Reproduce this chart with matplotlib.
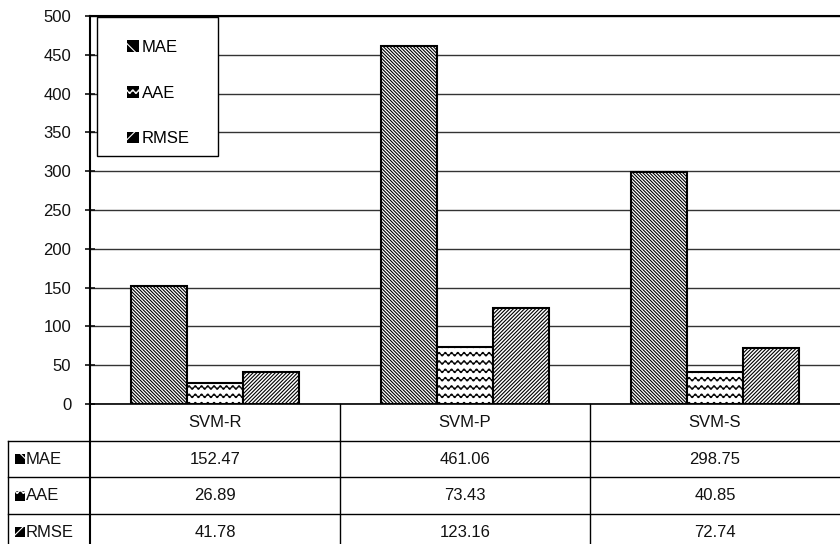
#!/usr/bin/env python3

import warnings

import numpy as np
import matplotlib
matplotlib.use("Agg")
import matplotlib.pyplot as plt
import matplotlib.transforms as mtransforms
from matplotlib import hatch as mhatch
from matplotlib.patches import Patch, Rectangle
from matplotlib.path import Path

warnings.filterwarnings("ignore")

models = ["SVM-R", "SVM-P", "SVM-S"]
metrics = ["MAE", "AAE", "RMSE"]
mae = [152.47, 461.06, 298.75]
aae = [26.89, 73.43, 40.85]
rmse = [41.78, 123.16, 72.74]
yticks = [0, 50, 100, 150, 200, 250, 300, 350, 400, 450, 500]


class WavyHatch(mhatch.HatchPatternBase):
    """Rows of small sine waves, selected with '~' in a hatch string."""

    n_pts = 161

    def __init__(self, hatch, density):
        self.num_rows = int(hatch.count("~") * density)
        self.num_vertices = self.num_rows * self.n_pts

    def set_vertices_and_codes(self, vertices, codes):
        xs = np.linspace(0.0, 1.0, self.n_pts)
        wave = 0.018 * np.sin(2 * np.pi * 16 * xs)
        for i in range(self.num_rows):
            y = (i + 0.5) / self.num_rows
            sl = slice(i * self.n_pts, (i + 1) * self.n_pts)
            vertices[sl, 0] = xs
            vertices[sl, 1] = y + wave
            codes[sl] = Path.LINETO
            codes[i * self.n_pts] = Path.MOVETO


mhatch._hatch_types.append(WavyHatch)

plt.rcParams["font.family"] = ["Liberation Sans", "DejaVu Sans"]
plt.rcParams["font.size"] = 12
plt.rcParams["hatch.linewidth"] = 0.8

bar_hatch = ["\\" * 10, "~~", "/" * 9]
icon_hatch = ["\\\\", "~", "//"]
series = [mae, aae, rmse]

W, H = 840, 544
fig = plt.figure(figsize=(W / 100, H / 100), dpi=100)
ax = fig.add_axes([90 / W, 140 / H, 750 / W, 388 / H])

x = np.arange(len(models))
width = 0.224
for i, (vals, h) in enumerate(zip(series, bar_hatch)):
    ax.bar(x + (i - 1) * width, vals, width, facecolor="white",
           edgecolor="black", hatch=h, linewidth=1.5, zorder=3)

ax.set_xlim(-0.5, 2.5)
ax.set_ylim(0, 500)
ax.set_yticks(yticks)
ax.set_xticks([])
ax.yaxis.grid(True, color="#333333", linewidth=1.0, zorder=0)
ax.set_axisbelow(True)
ax.tick_params(axis="y", direction="inout", length=7, width=1.2, pad=10,
               colors="#111111")
ax.spines["right"].set_visible(False)
ax.spines["left"].set_linewidth(1.5)
ax.spines["top"].set_linewidth(1.5)
ax.spines["bottom"].set_linewidth(1.2)

# legend box in the upper left corner
ax.add_patch(Rectangle((7 / 750, 1 - 140 / 388), 121 / 750, 139 / 388,
                       transform=ax.transAxes, facecolor="white",
                       edgecolor="black", linewidth=1.0, zorder=5))
handles = [Patch(facecolor="black", edgecolor="white", linewidth=0, hatch=h)
           for h in icon_hatch]
ax.legend(handles, metrics, loc="upper left", frameon=False,
          bbox_to_anchor=(37 / 750, 1 - 24 / 388), handlelength=0.72,
          handleheight=0.72, handletextpad=0.15, labelspacing=1.84,
          borderaxespad=0, borderpad=0).set_zorder(6)

# data table under the plot
col_tr = mtransforms.blended_transform_factory(ax.transData, fig.transFigure)
top = 140 / H
rh = 36.7 / H
line_kw = dict(color="black", linewidth=1.0, clip_on=False)

for k in range(1, 4):
    y = top - k * rh
    fig.add_artist(plt.Line2D([8 / W, 1], [y, y], transform=fig.transFigure,
                              **line_kw))
for b in [-0.5, 0.5, 1.5]:
    lw = 1.5 if b == -0.5 else 1.0
    fig.add_artist(plt.Line2D([b, b], [top, 0], transform=col_tr,
                              color="black", linewidth=lw))
fig.add_artist(plt.Line2D([8 / W, 8 / W], [top - rh, 0],
                          transform=fig.transFigure, **line_kw))

for j, name in enumerate(models):
    fig.text(j, top - 0.5 * rh, name, transform=col_tr, ha="center",
             va="center", color="#111111")
for r, (vals, name, h) in enumerate(zip(series, metrics, icon_hatch)):
    yc = top - (r + 1.5) * rh
    fig.add_artist(Rectangle((15 / W, yc - 5 / H), 10 / W, 10 / H,
                             transform=fig.transFigure, facecolor="black",
                             edgecolor="white", linewidth=0, hatch=h))
    fig.text(26 / W, yc, name, ha="left", va="center", color="#111111")
    for j, v in enumerate(vals):
        fig.text(j, yc, f"{v:.2f}", transform=col_tr, ha="center",
                 va="center", color="#111111")

fig.savefig("out.png", dpi=100)
